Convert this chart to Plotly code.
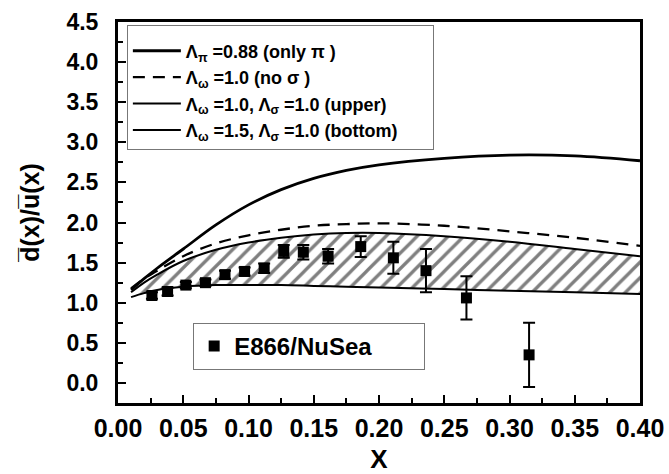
import plotly.graph_objects as go

# ---------------- data ----------------
x_curve = [0.01, 0.02, 0.03, 0.05, 0.075, 0.10, 0.125, 0.15, 0.175, 0.20, 0.25, 0.30, 0.35, 0.40]
only_pi = [1.16, 1.30, 1.43, 1.67, 1.97, 2.22, 2.41, 2.55, 2.65, 2.72, 2.80, 2.84, 2.83, 2.77]
no_sigma = [1.18, 1.30, 1.40, 1.58, 1.74, 1.84, 1.91, 1.96, 1.98, 1.99, 1.96, 1.89, 1.81, 1.71]
upper = [1.13, 1.25, 1.35, 1.52, 1.66, 1.75, 1.81, 1.85, 1.87, 1.87, 1.83, 1.76, 1.67, 1.58]
bottom = [1.07, 1.12, 1.16, 1.20, 1.22, 1.22, 1.22, 1.21, 1.20, 1.19, 1.17, 1.15, 1.13, 1.11]

x_data = [0.026, 0.038, 0.052, 0.067, 0.082, 0.097, 0.112, 0.127, 0.142, 0.161, 0.186, 0.211, 0.236, 0.267, 0.315]
y_data = [1.09, 1.14, 1.22, 1.25, 1.35, 1.39, 1.43, 1.64, 1.63, 1.58, 1.70, 1.56, 1.40, 1.06, 0.35]
err_data = [0.04, 0.05, 0.04, 0.04, 0.05, 0.05, 0.06, 0.08, 0.09, 0.09, 0.13, 0.20, 0.27, 0.27, 0.40]

x_ticks = [0.0, 0.05, 0.10, 0.15, 0.20, 0.25, 0.30, 0.35, 0.40]
x_ticklabels = ["0.00", "0.05", "0.10", "0.15", "0.20", "0.25", "0.30", "0.35", "0.40"]
y_ticks = [0.0, 0.5, 1.0, 1.5, 2.0, 2.5, 3.0, 3.5, 4.0, 4.5]
y_ticklabels = ["0.0", "0.5", "1.0", "1.5", "2.0", "2.5", "3.0", "3.5", "4.0", "4.5"]

FONT = "Liberation Sans, Arial, sans-serif"

fig = go.Figure()

fig.add_trace(go.Scatter(
    x=x_curve, y=only_pi, mode="lines", line=dict(color="black", width=2.8, shape="spline"),
    name="Λ<sub>π</sub> =0.88 (only π )", legend="legend", legendrank=1))
fig.add_trace(go.Scatter(
    x=x_curve, y=no_sigma, mode="lines", line=dict(color="black", width=2.3, dash="12px,8px", shape="spline"),
    name="Λ<sub>ω</sub> =1.0 (no σ )", legend="legend", legendrank=2))
fig.add_trace(go.Scatter(
    x=x_curve, y=bottom, mode="lines", line=dict(color="black", width=2, shape="spline"),
    name="Λ<sub>ω</sub> =1.5, Λ<sub>σ</sub> =1.0 (bottom)      ", legend="legend", legendrank=4))
fig.add_trace(go.Scatter(
    x=x_curve, y=upper, mode="lines", line=dict(color="rgba(0,0,0,0)", width=0, shape="spline"),
    fill="tonexty", fillcolor="white",
    fillpattern=dict(shape="/", fgcolor="black", bgcolor="white", size=11, solidity=0.3),
    showlegend=False, hoverinfo="skip"))
fig.add_trace(go.Scatter(
    x=x_curve, y=upper, mode="lines", line=dict(color="black", width=2, shape="spline"),
    name="Λ<sub>ω</sub> =1.0, Λ<sub>σ</sub> =1.0 (upper)", legend="legend", legendrank=3))

fig.add_trace(go.Scatter(
    x=x_data, y=y_data, mode="markers",
    marker=dict(symbol="square", size=11, color="black"),
    error_y=dict(type="data", array=err_data, color="black", thickness=2, width=6),
    name="E866/NuSea       ", legend="legend2"))

fig.update_layout(
    width=669, height=474,
    margin=dict(l=118, r=29, t=22, b=71, autoexpand=False),
    paper_bgcolor="white", plot_bgcolor="white",
    font=dict(family=FONT, color="black"),
    legend=dict(
        x=0.017, y=0.992, xanchor="left", yanchor="top",
        bgcolor="white", bordercolor="#777777", borderwidth=1,
        font=dict(family=FONT, size=18, weight="bold"),
        traceorder="normal", itemwidth=48,
        title=dict(text=" ", font=dict(size=5)),
    ),
    legend2=dict(
        x=0.144, y=0.21, xanchor="left", yanchor="top",
        bgcolor="white", bordercolor="#777777", borderwidth=1,
        font=dict(family=FONT, size=24, weight="bold"),
    ),
    showlegend=True,
)

fig.update_xaxes(
    range=[0, 0.40], tickvals=x_ticks, ticktext=x_ticklabels,
    ticks="inside", ticklen=8, tickwidth=2, tickcolor="black",
    minor=dict(ticks="inside", ticklen=5, tickwidth=2, dtick=0.025, tick0=0, tickcolor="black"),
    showline=True, linewidth=3, linecolor="black", mirror=True,
    showgrid=False, zeroline=False, automargin=False,
    tickfont=dict(family=FONT, size=25, weight="bold"),
    ticklabelstandoff=1, ticklabeloverflow="allow",
    title=dict(text="X", font=dict(family=FONT, size=26, weight="bold"), standoff=17),
)
fig.update_yaxes(
    range=[-0.25, 4.5], tickvals=y_ticks, ticktext=y_ticklabels,
    ticks="inside", ticklen=8, tickwidth=2, tickcolor="black",
    minor=dict(ticks="inside", ticklen=5, tickwidth=2, dtick=0.25, tick0=0, tickcolor="black"),
    showline=True, linewidth=3, linecolor="black", mirror=True,
    showgrid=False, zeroline=False, automargin=False,
    tickfont=dict(family=FONT, size=23, weight="bold"),
    ticklabelstandoff=12, ticklabeloverflow="allow",
    title=dict(text="d\u0305(x)/u\u0305(x)", font=dict(family=FONT, size=25, weight="bold"), standoff=20),
)

fig.write_html(
    "out.html",
    config={"displayModeBar": False},
    post_script="document.body.style.margin='0';document.body.style.overflow='hidden';",
)
